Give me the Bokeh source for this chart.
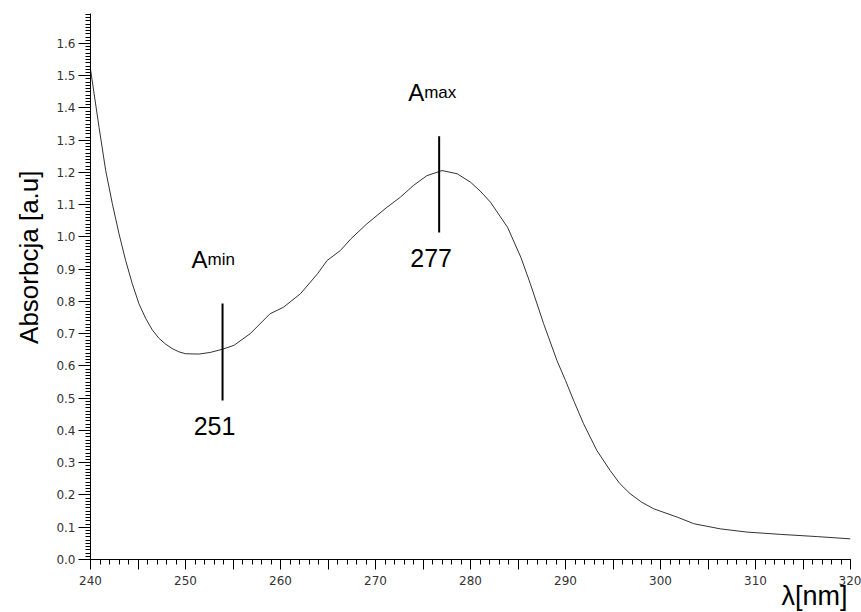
from bokeh.plotting import figure
from bokeh.models import SingleIntervalTicker, Range1d, NumeralTickFormatter, Title
from bokeh.core.properties import value
from bokeh.embed import file_html
from bokeh.resources import INLINE

# Spectrum
wavelength = [240.0, 240.9, 241.6, 242.3, 243.0, 243.7, 244.4, 245.1, 245.8, 246.5,
              247.2, 247.9, 248.6, 249.3, 250.0, 251.4, 252.6, 253.9, 255.1, 256.8,
              258.9, 260.3, 262.1, 263.9, 264.9, 266.3, 267.4, 269.1, 271.2, 272.6,
              274.0, 275.4, 277.0, 278.6, 280.0, 281.0, 282.1, 283.9, 285.3, 286.3,
              287.7, 289.1, 290.0, 290.9, 291.9, 293.3, 294.7, 295.7, 296.8, 298.0,
              299.3, 301.8, 303.5, 306.3, 309.1, 312.6, 316.5, 320.0]
absorbance = [1.52, 1.34, 1.206, 1.103, 1.01, 0.927, 0.855, 0.793, 0.748, 0.712,
              0.686, 0.668, 0.654, 0.644, 0.638, 0.637, 0.642, 0.652, 0.664, 0.70,
              0.762, 0.782, 0.824, 0.886, 0.927, 0.958, 0.994, 1.041, 1.092, 1.123,
              1.16, 1.19, 1.206, 1.196, 1.17, 1.143, 1.108, 1.03, 0.937, 0.855,
              0.731, 0.617, 0.555, 0.49, 0.421, 0.338, 0.276, 0.236, 0.204, 0.178,
              0.157, 0.131, 0.111, 0.095, 0.085, 0.078, 0.071, 0.064]

# Marker lines (position, bottom, top) and their labels
marker_x = [253.9, 276.7]
marker_y0 = [0.493, 1.014]
marker_y1 = [0.794, 1.312]
marker_values = ["251", "277"]
marker_names = ["min", "max"]

x_label = "λ[nm]"
y_label = "Absorbcja [a.u]"
x_ticks_unlabelled = [245, 255, 265, 275, 285, 295, 305, 315]

p = figure(width=861, height=612, output_backend="svg", toolbar_location=None,
           x_range=Range1d(240, 320), y_range=Range1d(0, 1.693),
           min_border_left=90, min_border_right=11, min_border_top=13,
           min_border_bottom=53)
p.outline_line_color = None
p.grid.visible = False
p.background_fill_color = "white"
p.border_fill_color = "white"

p.line(wavelength, absorbance, line_color="#333333", line_width=1)
p.segment(x0=marker_x, y0=marker_y0, x1=marker_x, y1=marker_y1,
          line_color="black", line_width=2)

for mx, y0, txt in zip(marker_x, marker_y0, marker_values):
    p.text(x=[mx], y=[y0 - 0.05], text=[txt], text_align="center",
           text_baseline="top", text_font=value("Liberation Sans"),
           text_font_size="25px", text_color="black", x_offset=-8)
for mx, y1, sub in zip(marker_x, marker_y1, marker_names):
    p.text(x=[mx], y=[y1 + 0.135], text=["A"], text_align="right",
           text_baseline="alphabetic", text_font=value("Liberation Sans"),
           text_font_size="24px", text_color="black", x_offset=-15)
    p.text(x=[mx], y=[y1 + 0.135], text=[sub], text_align="left",
           text_baseline="alphabetic", text_font=value("Liberation Sans"),
           text_font_size="17px", text_color="black", x_offset=-15)

for ax in (p.xaxis[0], p.yaxis[0]):
    ax.axis_line_color = "black"
    ax.major_tick_line_color = "black"
    ax.minor_tick_line_color = "black"
    ax.major_tick_in = 0
    ax.minor_tick_in = 0
    ax.major_label_text_font = "DejaVu Sans"
    ax.major_label_text_font_size = "12px"
    ax.major_label_text_color = "#333333"

p.xaxis.ticker = SingleIntervalTicker(interval=5, num_minor_ticks=5)
p.xaxis.major_label_overrides = {float(t): "" for t in x_ticks_unlabelled}
p.yaxis.ticker = SingleIntervalTicker(interval=0.1, num_minor_ticks=10)
p.xaxis.major_tick_out = 10
p.xaxis.minor_tick_out = 5
p.yaxis.major_tick_out = 12
p.yaxis.minor_tick_out = 5
p.xaxis.major_label_standoff = 6
p.yaxis.major_label_standoff = 3
p.yaxis.formatter = NumeralTickFormatter(format="0.0")

p.add_layout(Title(text=x_label, align="right", offset=3, standoff=-14,
                   vertical_align="top",
                   text_font="Liberation Sans", text_font_style="normal",
                   text_font_size="27px", text_color="black"), "below")
p.add_layout(Title(text=y_label, align="right", offset=157, standoff=20,
                   text_font="Liberation Sans", text_font_style="normal",
                   text_font_size="26px", text_color="black"), "left")

open("out.html", "w").write(file_html(p, INLINE))
